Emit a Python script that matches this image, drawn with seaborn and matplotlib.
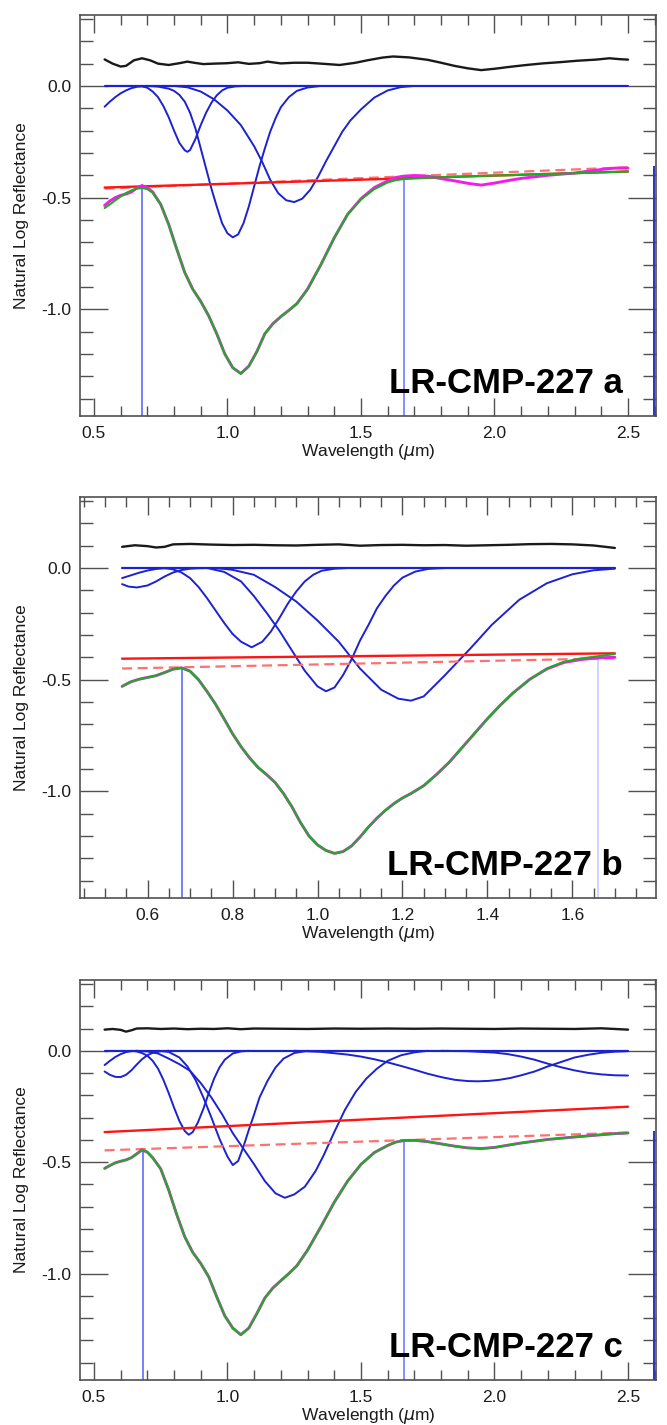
import matplotlib
matplotlib.use("Agg")
import matplotlib.pyplot as plt
from matplotlib.ticker import MultipleLocator, FuncFormatter
import seaborn as sns

# ---------------- panel a ----------------
wl_a = [0.54, 0.56, 0.58, 0.60, 0.62, 0.64, 0.66, 0.68, 0.70, 0.72, 0.75, 0.78, 0.81,
        0.84, 0.87, 0.90, 0.93, 0.96, 0.99, 1.02, 1.05, 1.08, 1.11, 1.14, 1.17, 1.20,
        1.23, 1.26, 1.30, 1.35, 1.40, 1.45, 1.50, 1.55, 1.60, 1.63, 1.66, 1.70, 1.75,
        1.80, 1.85, 1.90, 1.95, 2.00, 2.05, 2.10, 2.20, 2.30, 2.40, 2.45, 2.50]
meas_a = [-0.535, -0.515, -0.500, -0.490, -0.484, -0.475, -0.458, -0.446, -0.455, -0.475,
          -0.530, -0.620, -0.730, -0.835, -0.910, -0.965, -1.030, -1.110, -1.200, -1.262,
          -1.288, -1.255, -1.190, -1.110, -1.065, -1.033, -1.005, -0.975, -0.910, -0.800,
          -0.680, -0.575, -0.505, -0.455, -0.425, -0.410, -0.404, -0.401, -0.404, -0.415,
          -0.425, -0.436, -0.444, -0.435, -0.424, -0.414, -0.400, -0.390, -0.374, -0.368, -0.368]
model_a = [-0.547, -0.530, -0.512, -0.495, -0.480, -0.468, -0.460, -0.457, -0.462, -0.478,
           -0.530, -0.620, -0.730, -0.835, -0.910, -0.965, -1.030, -1.110, -1.200, -1.262,
           -1.288, -1.255, -1.190, -1.110, -1.065, -1.033, -1.005, -0.975, -0.910, -0.800,
           -0.680, -0.575, -0.508, -0.462, -0.432, -0.422, -0.417, -0.414, -0.411, -0.409,
           -0.407, -0.405, -0.403, -0.401, -0.400, -0.398, -0.394, -0.391, -0.387, -0.385, -0.383]
resid_a_wl = [0.54, 0.57, 0.60, 0.62, 0.65, 0.68, 0.71, 0.74, 0.78, 0.82, 0.85, 0.88, 0.91,
              0.95, 1.00, 1.04, 1.08, 1.12, 1.15, 1.20, 1.25, 1.30, 1.35, 1.42, 1.48, 1.52,
              1.58, 1.62, 1.68, 1.75, 1.80, 1.85, 1.90, 1.95, 2.00, 2.06, 2.12, 2.18, 2.25,
              2.31, 2.38, 2.43, 2.47, 2.50]
resid_a = [0.119, 0.100, 0.087, 0.090, 0.115, 0.124, 0.115, 0.100, 0.094, 0.102, 0.109,
           0.103, 0.098, 0.100, 0.102, 0.106, 0.099, 0.102, 0.109, 0.101, 0.104, 0.104,
           0.100, 0.094, 0.104, 0.114, 0.127, 0.132, 0.128, 0.117, 0.104, 0.090, 0.079,
           0.071, 0.077, 0.086, 0.094, 0.101, 0.107, 0.113, 0.118, 0.124, 0.120, 0.118]
bands_a = [
    ([0.54, 0.56, 0.58, 0.60, 0.62, 0.64, 0.66, 0.68, 0.70],
     [-0.093, -0.070, -0.050, -0.033, -0.020, -0.010, -0.004, -0.001, 0.0]),
    ([0.66, 0.68, 0.70, 0.72, 0.74, 0.76, 0.78, 0.80, 0.82, 0.84, 0.85, 0.86, 0.88, 0.90,
      0.92, 0.94, 0.96, 0.98, 1.00, 1.03, 1.06],
     [0.0, -0.002, -0.008, -0.025, -0.050, -0.090, -0.140, -0.200, -0.255, -0.288, -0.295,
      -0.287, -0.238, -0.175, -0.120, -0.075, -0.042, -0.020, -0.008, -0.002, 0.0]),
    ([0.70, 0.74, 0.78, 0.80, 0.82, 0.84, 0.86, 0.88, 0.90, 0.92, 0.94, 0.96, 0.98, 1.00,
      1.02, 1.04, 1.06, 1.08, 1.10, 1.12, 1.14, 1.16, 1.18, 1.20, 1.23, 1.26, 1.30, 1.35],
     [0.0, -0.003, -0.012, -0.022, -0.040, -0.070, -0.120, -0.190, -0.280, -0.370, -0.460,
      -0.540, -0.615, -0.660, -0.678, -0.665, -0.615, -0.540, -0.450, -0.360, -0.280,
      -0.205, -0.145, -0.095, -0.050, -0.022, -0.007, 0.0]),
    ([0.80, 0.85, 0.90, 0.95, 1.00, 1.05, 1.10, 1.13, 1.16, 1.19, 1.22, 1.25, 1.28, 1.31,
      1.34, 1.37, 1.40, 1.43, 1.46, 1.50, 1.55, 1.60, 1.65, 1.70],
     [0.0, -0.006, -0.025, -0.060, -0.110, -0.175, -0.270, -0.340, -0.420, -0.480, -0.512,
      -0.520, -0.505, -0.465, -0.405, -0.335, -0.270, -0.205, -0.155, -0.105, -0.052,
      -0.020, -0.005, 0.0]),
]
cont_a = ([0.54, 2.50], [-0.455, -0.383])
cont_dash_a = ([0.54, 2.50], [-0.460, -0.364])
marks_a = ([0.68, 1.66], [-0.447, -0.404])
edge_a = (2.597, -0.36)

# ---------------- panel b ----------------
wl_b = [0.54, 0.56, 0.58, 0.60, 0.62, 0.64, 0.66, 0.68, 0.70, 0.72, 0.74, 0.76, 0.78, 0.80,
        0.82, 0.84, 0.86, 0.88, 0.90, 0.92, 0.94, 0.96, 0.98, 1.00, 1.02, 1.04, 1.06, 1.08,
        1.10, 1.12, 1.14, 1.16, 1.18, 1.20, 1.22, 1.25, 1.28, 1.31, 1.34, 1.37, 1.40, 1.43,
        1.46, 1.50, 1.54, 1.58, 1.62, 1.66, 1.70]
meas_b = [-0.530, -0.510, -0.498, -0.490, -0.482, -0.468, -0.453, -0.447, -0.462, -0.500,
          -0.553, -0.610, -0.675, -0.742, -0.800, -0.850, -0.893, -0.925, -0.960, -1.010,
          -1.070, -1.140, -1.200, -1.240, -1.265, -1.278, -1.270, -1.245, -1.205, -1.160,
          -1.120, -1.085, -1.055, -1.030, -1.010, -0.975, -0.925, -0.870, -0.805, -0.740,
          -0.675, -0.615, -0.560, -0.498, -0.452, -0.423, -0.410, -0.402, -0.400]
model_b = [-0.530, -0.510, -0.498, -0.490, -0.482, -0.468, -0.453, -0.447, -0.462, -0.500,
           -0.553, -0.610, -0.675, -0.742, -0.800, -0.850, -0.893, -0.925, -0.960, -1.010,
           -1.070, -1.140, -1.200, -1.240, -1.265, -1.278, -1.270, -1.245, -1.205, -1.160,
           -1.120, -1.085, -1.055, -1.030, -1.010, -0.975, -0.925, -0.870, -0.805, -0.740,
           -0.675, -0.615, -0.560, -0.498, -0.450, -0.420, -0.405, -0.395, -0.385]
resid_b_wl = [0.54, 0.57, 0.60, 0.62, 0.64, 0.66, 0.70, 0.75, 0.80, 0.85, 0.90, 0.95, 1.00,
              1.05, 1.10, 1.15, 1.20, 1.25, 1.30, 1.35, 1.40, 1.45, 1.50, 1.55, 1.60, 1.65, 1.70]
resid_b = [0.095, 0.102, 0.098, 0.092, 0.095, 0.106, 0.108, 0.105, 0.103, 0.104, 0.102,
           0.101, 0.104, 0.106, 0.100, 0.103, 0.104, 0.102, 0.103, 0.100, 0.102, 0.104,
           0.107, 0.108, 0.106, 0.101, 0.090]
bands_b = [
    ([0.54, 0.56, 0.58, 0.60, 0.62, 0.64, 0.66],
     [-0.045, -0.033, -0.021, -0.011, -0.004, -0.001, 0.0]),
    ([0.54, 0.555, 0.575, 0.60, 0.62, 0.64, 0.66, 0.68, 0.70, 0.72, 0.74],
     [-0.072, -0.083, -0.087, -0.078, -0.060, -0.038, -0.020, -0.009, -0.003, -0.001, 0.0]),
    ([0.64, 0.66, 0.68, 0.70, 0.72, 0.74, 0.76, 0.78, 0.80, 0.82, 0.845, 0.87, 0.89, 0.91,
      0.93, 0.95, 0.97, 0.99, 1.01, 1.04, 1.07],
     [0.0, -0.006, -0.020, -0.045, -0.085, -0.135, -0.190, -0.245, -0.295, -0.330, -0.355,
      -0.330, -0.285, -0.225, -0.160, -0.105, -0.060, -0.030, -0.012, -0.003, 0.0]),
    ([0.74, 0.78, 0.82, 0.85, 0.88, 0.91, 0.94, 0.97, 1.00, 1.02, 1.04, 1.06, 1.08, 1.10,
      1.12, 1.14, 1.16, 1.18, 1.20, 1.23, 1.26, 1.30],
     [0.0, -0.017, -0.060, -0.125, -0.200, -0.280, -0.370, -0.460, -0.530, -0.552, -0.535,
      -0.480, -0.410, -0.325, -0.255, -0.180, -0.125, -0.078, -0.043, -0.016, -0.004, 0.0]),
    ([0.76, 0.80, 0.85, 0.90, 0.95, 1.00, 1.05, 1.10, 1.15, 1.19, 1.22, 1.25, 1.30, 1.36,
      1.41, 1.475, 1.54, 1.60, 1.65, 1.70],
     [0.0, -0.008, -0.030, -0.085, -0.150, -0.235, -0.330, -0.450, -0.545, -0.585, -0.594,
      -0.575, -0.480, -0.360, -0.255, -0.142, -0.068, -0.028, -0.010, -0.003]),
]
cont_b = ([0.54, 1.70], [-0.406, -0.382])
cont_dash_b = ([0.54, 1.70], [-0.450, -0.404])
marks_b = ([0.68, 1.66], [-0.447, -0.402])

# ---------------- panel c ----------------
wl_c = wl_a
meas_c = [-0.528, -0.515, -0.503, -0.496, -0.490, -0.480, -0.463, -0.445, -0.455, -0.480,
          -0.530, -0.625, -0.735, -0.835, -0.905, -0.955, -1.015, -1.105, -1.190, -1.245,
          -1.275, -1.245, -1.180, -1.110, -1.065, -1.032, -1.000, -0.965, -0.895, -0.790,
          -0.680, -0.585, -0.510, -0.457, -0.425, -0.410, -0.403, -0.402, -0.408, -0.418,
          -0.428, -0.436, -0.439, -0.434, -0.424, -0.414, -0.398, -0.387, -0.377, -0.372, -0.369]
model_c = meas_c
resid_c_wl = [0.54, 0.57, 0.60, 0.62, 0.64, 0.66, 0.70, 0.75, 0.80, 0.85, 0.90, 0.95, 1.00,
              1.05, 1.10, 1.20, 1.30, 1.40, 1.50, 1.60, 1.70, 1.80, 1.90, 2.00, 2.10, 2.20,
              2.30, 2.40, 2.45, 2.50]
resid_c = [0.095, 0.098, 0.094, 0.086, 0.092, 0.100, 0.101, 0.098, 0.100, 0.097, 0.099,
           0.098, 0.101, 0.097, 0.100, 0.099, 0.098, 0.100, 0.099, 0.100, 0.099, 0.100,
           0.099, 0.098, 0.100, 0.099, 0.098, 0.101, 0.098, 0.095]
bands_c = [
    ([0.54, 0.56, 0.58, 0.60, 0.62, 0.64, 0.66],
     [-0.064, -0.045, -0.028, -0.015, -0.006, -0.002, 0.0]),
    ([0.54, 0.56, 0.58, 0.60, 0.62, 0.64, 0.66, 0.68, 0.70, 0.72, 0.75, 0.78],
     [-0.093, -0.108, -0.117, -0.118, -0.108, -0.088, -0.062, -0.038, -0.020, -0.009,
      -0.002, 0.0]),
    ([0.64, 0.66, 0.68, 0.70, 0.72, 0.74, 0.76, 0.78, 0.80, 0.82, 0.84, 0.855, 0.87, 0.89,
      0.91, 0.93, 0.95, 0.97, 0.99, 1.02, 1.05, 1.08],
     [0.0, -0.003, -0.010, -0.022, -0.045, -0.080, -0.130, -0.190, -0.255, -0.315, -0.360,
      -0.377, -0.365, -0.320, -0.260, -0.190, -0.125, -0.075, -0.040, -0.012, -0.003, 0.0]),
    ([0.74, 0.78, 0.82, 0.85, 0.88, 0.91, 0.94, 0.97, 1.00, 1.02, 1.04, 1.06, 1.08, 1.10,
      1.12, 1.15, 1.18, 1.21, 1.25, 1.30],
     [0.0, -0.005, -0.030, -0.070, -0.130, -0.210, -0.300, -0.395, -0.475, -0.513, -0.495,
      -0.430, -0.355, -0.285, -0.210, -0.135, -0.075, -0.035, -0.010, 0.0]),
    ([0.66, 0.70, 0.74, 0.78, 0.82, 0.86, 0.90, 0.94, 0.98, 1.02, 1.06, 1.10, 1.14, 1.18,
      1.215, 1.25, 1.29, 1.33, 1.36, 1.40, 1.44, 1.48, 1.52, 1.56, 1.60, 1.65, 1.70, 1.75],
     [0.0, -0.003, -0.012, -0.035, -0.060, -0.090, -0.145, -0.210, -0.285, -0.370, -0.440,
      -0.510, -0.585, -0.640, -0.660, -0.645, -0.610, -0.540, -0.470, -0.365, -0.265,
      -0.185, -0.125, -0.080, -0.045, -0.020, -0.007, 0.0]),
    ([1.25, 1.35, 1.45, 1.50, 1.55, 1.60, 1.65, 1.70, 1.75, 1.80, 1.85, 1.90, 1.94, 1.98,
      2.02, 2.06, 2.10, 2.15, 2.20, 2.25, 2.30, 2.35, 2.40, 2.45, 2.50],
     [0.0, -0.005, -0.017, -0.026, -0.038, -0.052, -0.068, -0.085, -0.103, -0.118, -0.130,
      -0.136, -0.137, -0.135, -0.130, -0.122, -0.110, -0.093, -0.070, -0.050, -0.030,
      -0.018, -0.009, -0.004, -0.002]),
    ([1.80, 1.90, 2.00, 2.05, 2.10, 2.15, 2.20, 2.25, 2.30, 2.35, 2.40, 2.45, 2.50],
     [0.0, -0.002, -0.008, -0.015, -0.026, -0.040, -0.058, -0.074, -0.088, -0.099, -0.106,
      -0.110, -0.111]),
]
cont_c = ([0.54, 2.50], [-0.365, -0.251])
cont_dash_c = ([0.54, 2.50], [-0.447, -0.367])
marks_c = ([0.685, 1.66], [-0.444, -0.403])
edge_c = (2.597, -0.362)

labels = ["LR-CMP-227 a", "LR-CMP-227 b", "LR-CMP-227 c"]

sns.set_theme(style="white")
plt.rcParams["font.family"] = ["Liberation Sans", "DejaVu Sans"]

BLUE = "#1c22d0"
FRAME = "#505050"
YLIM = (-1.478, 0.318)

fig = plt.figure(figsize=(6.67, 14.25), dpi=100)
ax_pos = [[0.12, 0.7081, 0.8636, 0.2814],
          [0.12, 0.3698, 0.8636, 0.2814],
          [0.12, 0.0316, 0.8636, 0.2807]]

panels = [
    dict(wl=wl_a, meas=meas_a, model=model_a, rwl=resid_a_wl, res=resid_a, bands=bands_a,
         cont=cont_a, dash=cont_dash_a, marks=marks_a, edge=edge_a, xlim=(0.448, 2.605),
         major=0.5, minor=0.1, zero=(0.54, 2.50), mark2="#6f7cff"),
    dict(wl=wl_b, meas=meas_b, model=model_b, rwl=resid_b_wl, res=resid_b, bands=bands_b,
         cont=cont_b, dash=cont_dash_b, marks=marks_b, edge=None, xlim=(0.441, 1.797),
         major=0.2, minor=0.05, zero=(0.54, 1.70), mark2="#c9ccff"),
    dict(wl=wl_c, meas=meas_c, model=model_c, rwl=resid_c_wl, res=resid_c, bands=bands_c,
         cont=cont_c, dash=cont_dash_c, marks=marks_c, edge=edge_c, xlim=(0.448, 2.605),
         major=0.5, minor=0.1, zero=(0.54, 2.50), mark2="#6f7cff"),
]

for i, p in enumerate(panels):
    ax = fig.add_axes(ax_pos[i])
    ax.set_xlim(*p["xlim"])
    ax.set_ylim(*YLIM)

    # band centre markers
    ax.vlines(p["marks"][0][0], YLIM[0], p["marks"][1][0], color="#5f6cf5", lw=1.2, zorder=1)
    ax.vlines(p["marks"][0][1], YLIM[0], p["marks"][1][1], color=p["mark2"], lw=1.2, zorder=1)
    if p["edge"] is not None:
        ax.vlines(p["edge"][0], YLIM[0], p["edge"][1], color="#2a34b8", lw=1.4, zorder=1)

    # residual and zero line
    sns.lineplot(x=p["rwl"], y=p["res"], ax=ax, color="#1a1a1a", lw=1.7,
                 estimator=None, sort=False)
    sns.lineplot(x=list(p["zero"]), y=[0.0, 0.0], ax=ax, color=BLUE, lw=1.6,
                 estimator=None, sort=False)

    # gaussian bands
    for bx, by in p["bands"]:
        sns.lineplot(x=bx, y=by, ax=ax, color=BLUE, lw=1.4, estimator=None, sort=False)

    # continua
    sns.lineplot(x=p["dash"][0], y=p["dash"][1], ax=ax, color="#ff7070", lw=1.6,
                 linestyle=(0, (4.5, 2.5)), estimator=None, sort=False)
    sns.lineplot(x=p["cont"][0], y=p["cont"][1], ax=ax, color="#ff1414", lw=1.7,
                 estimator=None, sort=False)

    # measured and modelled spectra
    sns.lineplot(x=p["wl"], y=p["meas"], ax=ax, color="#f01ee6", lw=2.1,
                 estimator=None, sort=False)
    sns.lineplot(x=p["wl"], y=p["model"], ax=ax, color="#18b020", lw=1.5,
                 estimator=None, sort=False)

    ax.text(0.942, 0.058, labels[i], transform=ax.transAxes, ha="right", va="baseline",
            fontsize=25, fontweight="bold", color="black")

    ax.xaxis.set_major_locator(MultipleLocator(p["major"]))
    ax.xaxis.set_minor_locator(MultipleLocator(p["minor"]))
    ax.yaxis.set_major_locator(MultipleLocator(0.5))
    ax.yaxis.set_minor_locator(MultipleLocator(0.1))
    ax.yaxis.set_major_formatter(FuncFormatter(lambda v, pos: f"{v:.1f}".replace("-0.0", "0.0")))
    ax.xaxis.set_major_formatter(FuncFormatter(lambda v, pos: f"{v:.1f}"))

    ax.tick_params(which="both", direction="in", bottom=True, left=True, top=True,
                   right=True, color=FRAME, width=1.0, labelsize=12.5, labelcolor="#1a1a1a")
    ax.tick_params(axis="x", which="major", length=13, pad=7)
    ax.tick_params(axis="x", which="minor", length=7)
    ax.tick_params(axis="y", which="major", length=20, pad=6)
    ax.tick_params(axis="y", which="minor", length=9.5)
    for s in ax.spines.values():
        s.set_color(FRAME)
        s.set_linewidth(1.2)

    ax.set_xlabel("Wavelength ($\\mu$m)", fontsize=12.5, labelpad=1, color="#1a1a1a")
    ax.set_ylabel("Natural Log Reflectance", fontsize=12.5, color="#1a1a1a")
    ax.yaxis.set_label_coords(-0.088, 0.5)

fig.savefig("out.png", dpi=100)
